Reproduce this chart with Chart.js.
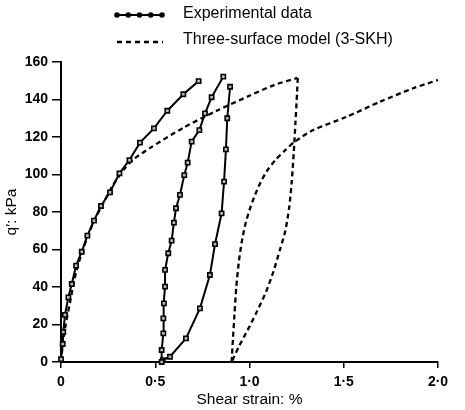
<!DOCTYPE html>
<html>
<head>
<meta charset="utf-8">
<script src="https://cdn.jsdelivr.net/npm/chart.js@4.4.0/dist/chart.umd.min.js"></script>
<style>
  body { margin: 0; background: #fff; }
</style>
</head>
<body>
<canvas id="shearChart" width="465" height="410"></canvas>
<script>
// EXPERIMENTAL DATA - first loading
const expLoadStrain = [0, 0.009, 0.012, 0.021, 0.039, 0.057, 0.080, 0.110, 0.140, 0.175, 0.212, 0.260, 0.310, 0.363, 0.419, 0.493, 0.564, 0.649, 0.730];
const expLoadQ = [1.5, 9.6, 16, 25.1, 34.5, 41.6, 51.4, 58.8, 67.4, 75.4, 83.2, 90.5, 100.6, 107.7, 117, 124.6, 134, 142.8, 149.8];

// EXPERIMENTAL DATA - unload then reload
const expLoopStrain = [0.897, 0.882, 0.875, 0.865, 0.852, 0.817, 0.790, 0.737, 0.663, 0.578, 0.540, 0.534, 0.534, 0.543, 0.543, 0.546, 0.552, 0.552, 0.569, 0.587, 0.599, 0.610, 0.631, 0.654, 0.672, 0.693, 0.734, 0.764, 0.799, 0.861];
const expLoopQ = [146.8, 130, 113.4, 96.2, 79.3, 62.9, 46.4, 28.6, 12.6, 2.8, 1, 0, 6.4, 15.3, 23.3, 31.3, 40.2, 49.1, 58, 64.7, 74.3, 82, 89.1, 99.7, 106.3, 117.5, 123.7, 132.6, 141.2, 152.2];

// THREE-SURFACE MODEL (3-SKH)
const modelLoadStrain = [0, 0.01, 0.025, 0.05, 0.08, 0.12, 0.17, 0.22, 0.28, 0.34, 0.39, 0.47, 0.65, 0.83, 1.0, 1.13, 1.254];
const modelLoadQ = [0, 10, 20, 33, 48, 61, 74, 84, 95, 103.5, 108.5, 114, 125, 134.2, 142, 147.7, 151.5];

const modelUnloadStrain = [1.256, 1.252, 1.244, 1.235, 1.224, 1.210, 1.190, 1.162, 1.126, 1.088, 1.040, 0.990, 0.945, 0.905];
const modelUnloadQ = [151.5, 143, 128, 112, 96, 82, 70, 60, 48, 37.5, 27, 17, 8.5, 0];

const modelReloadStrain = [0.905, 0.912, 0.920, 0.930, 0.943, 0.958, 0.978, 1.000, 1.025, 1.055, 1.090, 1.140, 1.190, 1.240, 1.338, 1.516, 1.692, 1.869, 2.0];
const modelReloadQ = [0, 12, 25, 40, 53, 63.5, 73.5, 81, 88, 95, 101.5, 108, 113, 117.5, 123.7, 130.8, 138.8, 146, 150.4];

// AXES
const xTickValues = [0, 0.5, 1, 1.5, 2];
const xTickLabels = ["0", "0·5", "1·0", "1·5", "2·0"];
const yTickValues = [0, 20, 40, 60, 80, 100, 120, 140, 160];

const legendLabels = ["Experimental data", "Three-surface model (3-SKH)"];

function pts(xs, ys) {
  return xs.map((x, i) => ({ x: x, y: ys[i] }));
}

const expStyle = {
  showLine: true,
  borderColor: "#000",
  borderWidth: 2,
  pointStyle: "rect",
  pointRadius: 3,
  pointBorderWidth: 1.6,
  pointBorderColor: "#000",
  pointBackgroundColor: "#bbb",
  tension: 0,
  clip: false
};

const modelStyle = {
  showLine: true,
  borderColor: "#000",
  borderWidth: 2.3,
  borderDash: [5, 3.5],
  pointRadius: 0,
  tension: 0.25,
  clip: false
};

// legend drawn by hand above the plot
const legendRows = {
  id: "legendRows",
  afterDraw(chart) {
    const ctx = chart.ctx;
    ctx.save();
    ctx.strokeStyle = "#000";
    ctx.fillStyle = "#000";
    // solid with dots
    ctx.lineWidth = 2;
    ctx.beginPath();
    ctx.moveTo(117, 15);
    ctx.lineTo(162, 15);
    ctx.stroke();
    for (let i = 0; i < 5; i++) {
      ctx.beginPath();
      ctx.arc(117 + i * 11.25, 15, 2.8, 0, Math.PI * 2);
      ctx.fill();
    }
    // dashed
    ctx.lineWidth = 2.3;
    ctx.setLineDash([5, 4]);
    ctx.beginPath();
    ctx.moveTo(117, 42);
    ctx.lineTo(163, 42);
    ctx.stroke();
    ctx.setLineDash([]);
    ctx.font = "16px 'Liberation Sans', Arial, sans-serif";
    ctx.textBaseline = "middle";
    ctx.fillText(legendLabels[0], 183, 14);
    ctx.fillText(legendLabels[1], 183, 40);
    ctx.restore();
  }
};

const tickFont = { family: "'Liberation Sans', Arial, sans-serif", size: 14, weight: "bold" };
const titleFont = { family: "'Liberation Sans', Arial, sans-serif", size: 15.5 };

new Chart(document.getElementById("shearChart"), {
  type: "scatter",
  data: {
    datasets: [
      Object.assign({ label: "Experimental data", data: pts(expLoadStrain, expLoadQ) }, expStyle),
      Object.assign({ label: "Experimental loop", data: pts(expLoopStrain, expLoopQ) }, expStyle),
      Object.assign({ label: "Model loading", data: pts(modelLoadStrain, modelLoadQ) }, modelStyle),
      Object.assign({ label: "Model unloading", data: pts(modelUnloadStrain, modelUnloadQ) }, modelStyle),
      Object.assign({ label: "Model reloading", data: pts(modelReloadStrain, modelReloadQ) }, modelStyle)
    ]
  },
  options: {
    responsive: false,
    animation: false,
    layout: { padding: { top: 62, right: 27, left: 0, bottom: 0 } },
    plugins: {
      legend: { display: false },
      tooltip: { enabled: false }
    },
    scales: {
      x: {
        type: "linear",
        min: 0,
        max: 2,
        afterBuildTicks: (scale) => {
          scale.ticks = xTickValues.map((v) => ({ value: v }));
        },
        afterFit: (scale) => { scale.height = 48; },
        ticks: {
          color: "#000",
          font: tickFont,
          padding: 6,
          maxRotation: 0,
          callback: (v) => xTickLabels[xTickValues.indexOf(v)]
        },
        grid: { drawOnChartArea: false, drawTicks: true, tickLength: 6, color: "#000", lineWidth: 1.5 },
        border: { display: true, color: "#000", width: 2 },
        title: { display: true, text: "Shear strain: %", color: "#000", font: titleFont, padding: { top: 0, bottom: 1 } }
      },
      y: {
        type: "linear",
        min: 0,
        max: 160,
        afterBuildTicks: (scale) => {
          scale.ticks = yTickValues.map((v) => ({ value: v }));
        },
        afterFit: (scale) => { scale.width = 61; },
        ticks: { color: "#000", font: tickFont, padding: 4 },
        grid: { drawOnChartArea: false, drawTicks: true, tickLength: 9, color: "#000", lineWidth: 1.5 },
        border: { display: true, color: "#000", width: 2 },
        title: { display: true, text: "q′: kPa", color: "#000", font: titleFont, padding: { top: 2, bottom: 0 } }
      }
    }
  },
  plugins: [legendRows]
});
</script>
</body>
</html>
